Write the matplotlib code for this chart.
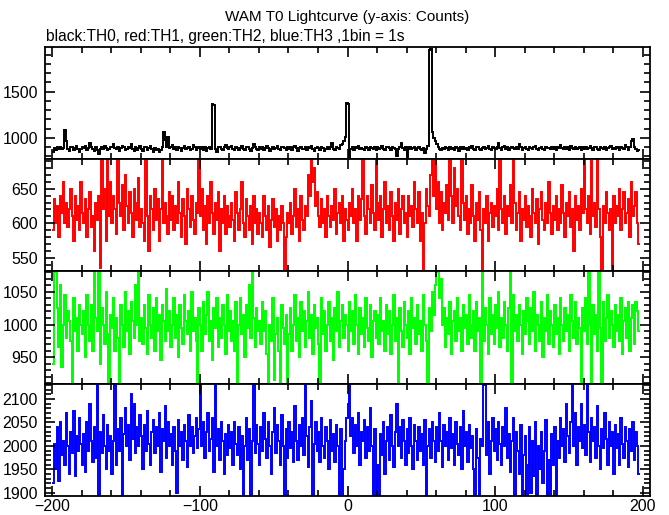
import numpy as np
import matplotlib
matplotlib.use("Agg")
import matplotlib.pyplot as plt
from matplotlib.ticker import MultipleLocator

# WAM T0 lightcurves, 1 s bins starting at t = -200 s

th0 = [850, 885, 870, 895, 880, 900, 875, 890, 1080, 960, 880, 860, 895, 905, 870, 890, 910, 880, 850, 875,
       900, 885, 915, 870, 890, 940, 905, 880, 860, 895, 870, 820, 880, 900, 875, 910, 890, 865, 880, 895,
       905, 930, 890, 875, 900, 860, 885, 915, 895, 870, 880, 905, 890, 935, 880, 860, 895, 870, 890, 910,
       880, 860, 895, 900, 870, 885, 910, 875, 850, 890, 865, 880, 845, 870, 900, 1060, 980, 900, 1010, 890,
       900, 920, 880, 895, 870, 905, 890, 860, 885, 910, 875, 890, 900, 865, 880, 920, 895, 870, 885, 900,
       880, 905, 870, 895, 860, 885, 900, 875, 1370, 1360, 880, 850, 895, 905, 880, 870, 900, 920, 885, 875,
       895, 910, 880, 870, 900, 885, 865, 890, 915, 880, 870, 895, 905, 875, 860, 890, 935, 900, 880, 870,
       895, 880, 905, 870, 890, 915, 885, 860, 880, 900, 875, 890, 910, 880, 865, 895, 900, 885, 870, 905,
       880, 895, 870, 900, 915, 885, 860, 890, 905, 875, 880, 900, 870, 895, 885, 910, 875, 860, 890, 900,
       885, 870, 905, 890, 860, 880, 900, 875, 895, 940, 880, 870, 905, 890, 880, 920, 930, 960, 1010, 1380,
       1370, 770, 880, 895, 870, 900, 885, 910, 875, 890, 880, 865, 900, 885, 870, 905, 890, 880, 895, 870,
       900, 875, 890, 910, 880, 865, 895, 900, 885, 870, 905, 890, 875, 800, 880, 900, 940, 885, 870, 895,
       790, 880, 900, 875, 890, 905, 870, 885, 900, 880, 865, 890, 830, 880, 910, 1950, 1960, 1060, 1000, 960,
       930, 900, 880, 865, 890, 875, 900, 885, 870, 905, 880, 890, 870, 900, 885, 860, 895, 880, 905, 875,
       890, 870, 900, 885, 915, 880, 870, 895, 905, 880, 865, 890, 900, 875, 885, 910, 880, 870, 900, 890,
       875, 905, 940, 890, 870, 900, 915, 880, 895, 870, 885, 905, 890, 875, 900, 880, 930, 895, 870, 890,
       900, 880, 870, 905, 890, 875, 895, 910, 880, 865, 890, 900, 880, 870, 905, 885, 890, 875, 900, 880,
       895, 870, 905, 885, 920, 890, 875, 900, 880, 895, 870, 910, 890, 880, 900, 875, 885, 905, 870, 895,
       880, 900, 875, 890, 910, 885, 870, 900, 895, 880, 870, 905, 890, 880, 900, 870, 885, 895, 910, 880,
       890, 875, 900, 885, 870, 905, 890, 880, 920, 895, 870, 900, 960, 990, 900, 880, 860, 870]

th1 = [590, 635, 600, 625, 580, 640, 615, 660, 600, 630, 595, 620, 650, 610, 575, 640, 605, 625, 590, 660,
       615, 600, 635, 580, 620, 645, 595, 610, 560, 630, 605, 640, 535, 695, 620, 650, 575, 695, 610, 660,
       600, 640, 620, 585, 695, 630, 610, 655, 590, 670, 625, 600, 645, 615, 580, 650, 630, 605, 665, 595,
       620, 600, 575, 695, 610, 560, 640, 620, 590, 650, 605, 635, 575, 620, 695, 600, 630, 610, 585, 645,
       605, 640, 590, 625, 600, 660, 615, 580, 635, 610, 570, 650, 620, 595, 640, 605, 585, 630, 615, 695,
       610, 650, 590, 625, 570, 640, 600, 660, 615, 585, 630, 605, 645, 560, 620, 600, 640, 585, 625, 610,
       595, 630, 605, 575, 645, 615, 590, 620, 660, 600, 580, 635, 610, 590, 625, 570, 640, 600, 620, 585,
       615, 600, 580, 640, 610, 590, 625, 565, 605, 635, 595, 620, 575, 610, 590, 625, 600, 531, 580, 615,
       600, 630, 585, 610, 650, 595, 620, 575, 640, 605, 590, 625, 610, 670, 640, 695, 660, 680, 625, 645,
       610, 595, 635, 600, 620, 580, 640, 610, 595, 625, 605, 650, 585, 615, 630, 600, 640, 575, 620, 605,
       590, 630, 610, 650, 600, 620, 575, 640, 605, 635, 695, 610, 585, 640, 620, 600, 655, 615, 590, 695,
       630, 605, 640, 580, 620, 660, 600, 625, 590, 645, 610, 575, 630, 605, 650, 585, 620, 640, 600, 615,
       580, 640, 610, 625, 595, 660, 620, 600, 645, 575, 615, 531, 600, 650, 625, 610, 670, 695, 640, 695,
       620, 660, 600, 645, 590, 630, 615, 655, 605, 695, 640, 600, 680, 625, 650, 610, 590, 695, 630, 605,
       640, 585, 620, 600, 655, 610, 575, 630, 605, 645, 590, 531, 620, 600, 640, 575, 615, 630, 595, 625,
       610, 650, 590, 695, 620, 600, 640, 585, 625, 610, 655, 600, 695, 630, 590, 615, 645, 575, 620, 605,
       640, 595, 625, 610, 580, 650, 615, 600, 635, 570, 620, 645, 605, 590, 630, 600, 660, 615, 585, 625,
       605, 640, 590, 620, 600, 655, 615, 580, 630, 610, 645, 595, 620, 560, 640, 605, 625, 590, 650, 615,
       695, 620, 600, 640, 585, 690, 610, 630, 595, 695, 620, 580, 531, 625, 600, 645, 615, 590, 620, 531,
       640, 600, 625, 610, 650, 590, 620, 645, 600, 615, 635, 580, 660, 610, 625, 645, 600, 570]

th2 = [940, 1080, 1080, 1025, 965, 1060, 935, 1000, 1045, 980, 1020, 1005, 975, 910, 1040, 990, 1010, 960, 1030, 1000,
       985, 1020, 950, 1045, 1000, 975, 1030, 960, 1080, 1010, 990, 1080, 940, 1025, 1000, 970, 1050, 985, 910, 1015,
       995, 1040, 960, 1010, 980, 910, 1030, 1000, 965, 1050, 990, 1020, 955, 1035, 1005, 980, 1060, 1000, 1080, 975,
       1010, 970, 1030, 995, 955, 1045, 1000, 980, 1025, 960, 1040, 990, 1015, 945, 1030, 1005, 975, 1055, 990, 1020,
       965, 1000, 1040, 980, 1015, 950, 1030, 995, 970, 1045, 1005, 985, 1020, 960, 1050, 990, 1010, 975, 910, 1025,
       1000, 960, 1035, 985, 1015, 1050, 975, 1005, 945, 1025, 995, 1040, 965, 1010, 980, 1030, 1000, 955, 1045, 990,
       1020, 975, 1005, 960, 1035, 910, 1000, 1040, 985, 1015, 950, 1030, 995, 1060, 980, 1080, 1010, 965, 1025, 990,
       1005, 970, 1035, 990, 1020, 955, 910, 1000, 975, 1040, 915, 985, 1010, 960, 910, 1030, 995, 970, 1015, 910,
       985, 1025, 960, 1000, 1045, 975, 1010, 950, 1035, 990, 1020, 965, 1005, 1050, 980, 1015, 955, 1030, 995, 1010,
       970, 910, 1040, 985, 1020, 960, 1000, 1035, 975, 1010, 945, 1025, 990, 1050, 965, 1005, 1030, 980, 1015, 1000,
       960, 1035, 990, 1020, 970, 1045, 1000, 955, 1025, 985, 1010, 965, 1040, 995, 975, 1030, 950, 1005, 1020, 980,
       1015, 970, 1040, 990, 1005, 960, 1030, 985, 1020, 955, 1000, 1045, 975, 1010, 910, 1025, 990, 965, 1035, 1000,
       980, 1020, 955, 1040, 995, 1010, 970, 1030, 985, 1005, 960, 1045, 1000, 975, 910, 1025, 990, 1050, 1015, 1060,
       1080, 1080, 1040, 1070, 1000, 1025, 965, 1010, 985, 1035, 955, 1005, 1020, 975, 1040, 990, 1010, 960, 1030, 995,
       1015, 970, 1045, 1000, 980, 1020, 960, 1035, 990, 1010, 910, 1080, 975, 1025, 1000, 955, 1040, 985, 1015, 970,
       1030, 995, 1050, 965, 1010, 980, 1035, 1000, 960, 1025, 1080, 910, 1045, 990, 1015, 975, 1030, 1000, 955, 1020,
       985, 1040, 1005, 970, 1025, 990, 1050, 960, 1015, 1000, 975, 1035, 950, 1010, 990, 1045, 970, 1020, 1000, 965,
       1030, 985, 1010, 955, 1040, 1000, 975, 1025, 990, 1015, 960, 1045, 1005, 980, 1035, 970, 1010, 995, 910, 1025,
       990, 1040, 970, 1080, 1000, 910, 1030, 985, 1015, 960, 1080, 995, 910, 1035, 975, 1010, 1045, 980, 1020, 1000,
       965, 1030, 990, 1015, 975, 1040, 955, 1005, 1025, 980, 1035, 960, 1010, 1030, 970, 1035, 1020, 990]

th3 = [1920, 2005, 1950, 2040, 1925, 2050, 1980, 2010, 1960, 2070, 2000, 1940, 2030, 1985, 2075, 1935, 2020, 1990, 2060, 2005,
       1960, 2025, 1945, 2050, 1990, 2090, 2010, 1965, 2040, 1975, 2130, 1895, 2030, 1985, 2065, 2000, 1950, 2045, 1990, 2020,
       1940, 2010, 2130, 1960, 2035, 1990, 2060, 1895, 2025, 2080, 2000, 2045, 1970, 2110, 2015, 2090, 1985, 2040, 2000, 2065,
       2020, 1950, 2045, 1990, 2075, 2005, 1960, 2030, 2055, 1985, 2040, 2000, 2070, 1945, 2035, 2010, 2085, 1975, 2050, 2000,
       2025, 1960, 2040, 1990, 1900, 2055, 2000, 2030, 1970, 2045, 2010, 1955, 2065, 2000, 2040, 1985, 2020, 2060, 1995, 2035,
       2130, 2000, 2050, 1975, 2030, 2070, 1990, 2015, 2060, 1945, 2130, 2000, 2035, 1970, 2050, 2010, 1940, 2025, 1980, 2045,
       1995, 2030, 1960, 2050, 2005, 1980, 2040, 1950, 2020, 1895, 2000, 2060, 1970, 2035, 1895, 2010, 2130, 1985, 2045, 2005,
       1960, 2040, 1990, 2070, 2015, 1975, 2050, 2000, 1940, 2030, 2080, 1985, 2045, 2010, 1960, 2065, 2000, 1895, 2035, 1975,
       2050, 1995, 2030, 1965, 2085, 2010, 1970, 2045, 2000, 2060, 1980, 2130, 2020, 1955, 2040, 2095, 1895, 2005, 2050, 1990,
       2030, 1965, 2060, 2000, 1975, 2040, 2010, 1950, 2055, 1990, 2025, 1965, 2045, 2000, 1895, 2035, 1895, 1950, 2010, 2060,
       2090, 2130, 2020, 2060, 1985, 2045, 2000, 2070, 1960, 2030, 2010, 2055, 1975, 2040, 1990, 2080, 2000, 1895, 2035, 1895,
       1960, 1895, 2025, 1980, 2050, 1940, 2010, 2040, 1970, 2065, 2000, 1955, 2030, 2090, 2000, 2040, 1975, 2055, 2010, 1960,
       2035, 1985, 2060, 2000, 1950, 2045, 2010, 1970, 2040, 1990, 2025, 1960, 2055, 1895, 2000, 2035, 1975, 2050, 2010, 1965,
       2040, 1990, 2070, 2010, 1955, 2045, 2000, 2030, 1970, 2060, 1995, 2025, 1960, 2050, 2005, 1980, 2040, 1950, 2075, 2000,
       2030, 1965, 2045, 1995, 2020, 1950, 1895, 2035, 1975, 1895, 2015, 2000, 2130, 2130, 1980, 2050, 1940, 2010, 2060, 1990,
       2035, 1970, 2050, 2005, 1960, 2040, 2000, 2080, 1975, 2025, 1945, 2010, 2060, 1895, 2030, 1990, 1940, 2045, 1895, 1980,
       2020, 1895, 1960, 2040, 1900, 2010, 1935, 2050, 1895, 2000, 1950, 2030, 1920, 1990, 2055, 1895, 1970, 1895, 2025, 1960,
       2040, 1895, 2010, 1975, 2060, 2000, 2035, 1965, 2090, 2020, 1985, 2050, 2130, 2000, 2070, 1960, 2040, 2010, 2090, 1995,
       2045, 1980, 2130, 2030, 1965, 2060, 2010, 2040, 1975, 2085, 2000, 1950, 2035, 1995, 2070, 2015, 1960, 2050, 2000, 2030,
       1940, 2045, 1995, 2025, 1960, 2060, 2005, 1975, 2040, 2010, 1955, 2035, 1990, 2050, 1970, 2030, 2000, 1940]

t_start = -200
series = [th0, th1, th2, th3]
colors = ["black", "red", "#00ff00", "blue"]
ylims = [(770, 1985), (531, 693), (909, 1082), (1893, 2132)]
ymajor = [500, 50, 50, 50]
yminor = [100, 10, 10, 10]

plt.rcParams['font.family'] = ['Liberation Sans', 'DejaVu Sans']

fig = plt.figure(figsize=(6.69, 5.15), dpi=100)
left, right = 45 / 669, 650 / 669
tops = [47, 159, 271, 384]
bots = [159, 271, 384, 496]

for k in range(4):
    y = np.array(series[k])
    edges = np.arange(len(y) + 1) + t_start
    ax = fig.add_axes([left, 1 - bots[k] / 515, right - left, (bots[k] - tops[k]) / 515])
    ax.stairs(y, edges, color=colors[k], lw=1.4, baseline=None)
    ax.set_xlim(-205, 205)
    ax.set_ylim(*ylims[k])
    ax.xaxis.set_major_locator(MultipleLocator(100))
    ax.xaxis.set_minor_locator(MultipleLocator(20))
    ax.yaxis.set_major_locator(MultipleLocator(ymajor[k]))
    ax.yaxis.set_minor_locator(MultipleLocator(yminor[k]))
    ax.tick_params(which='both', direction='in', top=True, right=True, width=1.2, labelsize=11.5, pad=5)
    ax.tick_params(axis='x', pad=2)
    ax.tick_params(which='major', length=7)
    ax.tick_params(which='minor', length=4)
    for s in ax.spines.values():
        s.set_linewidth(1.3)
    if k < 3:
        ax.tick_params(labelbottom=False)

fig.text(0.519, 1 - 17 / 515, "WAM T0 Lightcurve (y-axis: Counts)", ha='center', va='center', fontsize=11)
fig.text(46 / 669, 1 - 36 / 515, "black:TH0, red:TH1, green:TH2, blue:TH3 ,1bin = 1s", ha='left', va='center', fontsize=11.2)

fig.savefig("out.png", dpi=100)
